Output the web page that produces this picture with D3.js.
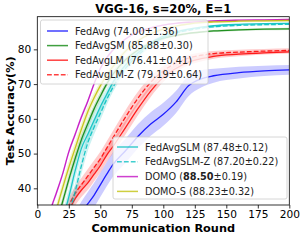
<!DOCTYPE html>
<html><head><meta charset="utf-8">
<script src="https://cdn.jsdelivr.net/npm/d3@7"></script>
<style>body{margin:0;background:#fff}svg{display:block}text{font-family:"DejaVu Sans",sans-serif}</style>
</head><body>
<script>
const rounds = [0,10,15,20,25,30,35,40,45,50,55,60,70,80,90,100,110,120,130,140,160,180,200];
const fedAvg     = [10,18,21,24,27,30,33,35.5,38,41,44,46.8,50.8,55,58.5,61.3,64.8,69.5,71.5,72.4,73.3,73.8,74.1];
const fedAvgSM   = [10,24,30,36,42.5,48.5,54,58.5,62.8,66.5,70,72.8,77,79.8,81.8,83.2,84,84.6,85,85.3,85.6,85.8,85.9];
const fedAvgLM   = [10,20,24.5,29,33.5,37,39.5,41.5,44,46.5,49.5,52,57.5,63,68,72,74.5,76.3,77.3,78,78.6,79,79.3];
const fedAvgLMZ  = [10,21,26,30.5,35,38.5,41,43.5,46,48.5,51.5,54.5,60.5,66,70.5,73.8,76,77.5,78.3,78.8,79.2,79.5,79.7];
const fedAvgSLM  = [10,20,25.5,31,37.5,45,51.5,55.5,59.5,63.5,67,70.5,75.5,79,81.8,83.8,85,85.8,86.4,86.8,87.2,87.4,87.5];
const fedAvgSLMZ = [10,18,23,28,33,39,46.5,53,57.5,61.5,65.5,69,74.5,78.3,81.2,83.3,84.7,85.5,86.1,86.5,86.9,87.1,87.2];
const domo       = [10,33,38.5,44,50.5,55.5,60.5,65,70,74.5,77.5,79.8,83,85,86.2,87,87.5,87.8,88,88.2,88.4,88.5,88.6];
const domoS      = [10,25,33.5,40,46,51.5,57,62,66,69.5,72.5,75,79.5,82.5,84.5,85.8,86.7,87.3,87.7,87.9,88.1,88.2,88.3];

const sdFedAvg     = [1,2,2.5,2.5,3,3,3.2,3.4,3.5,3.5,3.5,3.5,3.5,3.5,3.4,3.3,3.2,3,2.5,2,1.7,1.5,1.4];
const sdFedAvgSM   = [1,1.5,1.5,1.6,1.6,1.6,1.5,1.4,1.3,1.2,1,0.9,0.7,0.6,0.5,0.4,0.4,0.3,0.3,0.3,0.3,0.3,0.3];
const sdFedAvgLM   = [1,1.5,1.8,2,2,2,2,2,2,2,2,2,2,1.9,1.7,1.4,1.1,0.9,0.8,0.7,0.6,0.5,0.5];
const sdFedAvgLMZ  = [1,1.5,1.8,2,2,2,2,2,2,2,2,2,2,1.9,1.7,1.4,1.1,0.9,0.8,0.7,0.7,0.6,0.6];
const sdFedAvgSLM  = [1,1.8,2,2.2,2.4,2.4,2.4,2.3,2.1,1.9,1.6,1.3,1,0.8,0.6,0.5,0.4,0.3,0.2,0.2,0.2,0.2,0.2];
const sdFedAvgSLMZ = [1,1.8,2,2.2,2.4,2.4,2.4,2.3,2.1,1.9,1.6,1.3,1,0.8,0.6,0.5,0.4,0.3,0.3,0.3,0.2,0.2,0.2];
const sdDomo       = [1,0.8,0.8,0.8,0.8,0.8,0.8,0.7,0.6,0.5,0.5,0.4,0.3,0.3,0.2,0.2,0.2,0.2,0.2,0.2,0.2,0.2,0.2];
const sdDomoS      = [1,1.5,1.6,1.7,1.8,1.8,1.7,1.6,1.4,1.2,1,0.9,0.7,0.5,0.4,0.4,0.3,0.3,0.3,0.3,0.3,0.3,0.3];

const names  = ["FedAvg","FedAvgSM","FedAvgLM","FedAvgLM-Z","FedAvgSLM","FedAvgSLM-Z","DOMO","DOMO-S"];
const labels = ["(74.00±1.36)","(85.88±0.30)","(76.41±0.41)","(79.19±0.64)","(87.48±0.12)","(87.20±0.22)","(88.50±0.19)","(88.23±0.32)"];
const colors = ["#0000ff","#008000","#ff0000","#ff0000","#00bfbf","#00bfbf","#bf00bf","#bfbf00"];
const dashed = [false,false,false,true,false,true,false,false];
const means  = [fedAvg,fedAvgSM,fedAvgLM,fedAvgLMZ,fedAvgSLM,fedAvgSLMZ,domo,domoS];
const sds    = [sdFedAvg,sdFedAvgSM,sdFedAvgLM,sdFedAvgLMZ,sdFedAvgSLM,sdFedAvgSLMZ,sdDomo,sdDomoS];
const xTicks = [0,25,50,75,100,125,150,175,200];
const yTicks = [40,50,60,70,80];

const W=305,H=240;
const m={l:37.3,r:289.3,t:16.7,b:205};
const svg=d3.select("body").append("svg").attr("width",W).attr("height",H);
const x=d3.scaleLinear().domain([0,200]).range([m.l,m.r]);
const y=d3.scaleLinear().domain([35.2,89.4]).range([m.b,m.t]);

svg.append("defs").append("clipPath").attr("id","clip").append("rect")
  .attr("x",m.l).attr("y",m.t).attr("width",m.r-m.l).attr("height",m.b-m.t);

const plot=svg.append("g").attr("clip-path","url(#clip)");
const line=d3.line().x((d,i)=>x(rounds[i])).y(d=>y(d)).curve(d3.curveMonotoneX);
const area=d3.area().x((d,i)=>x(rounds[i])).y0(d=>y(d[0])).y1(d=>y(d[1])).curve(d3.curveMonotoneX);

names.forEach((n,k)=>{
  const band=means[k].map((v,i)=>[v-sds[k][i],v+sds[k][i]]);
  plot.append("path").attr("d",area(band)).attr("fill",colors[k]).attr("fill-opacity",0.2);
  plot.append("path").attr("d",line(means[k])).attr("fill","none").attr("stroke",colors[k])
    .attr("stroke-width",1.3).attr("stroke-opacity",0.85)
    .attr("stroke-dasharray",dashed[k]?"4.8,2.1":null);
});

// axes
const xa=svg.append("g").attr("transform",`translate(0,${m.b})`)
  .call(d3.axisBottom(x).tickValues(xTicks).tickSize(3.5).tickPadding(2));
const ya=svg.append("g").attr("transform",`translate(${m.l},0)`)
  .call(d3.axisLeft(y).tickValues(yTicks).tickSize(3.5).tickPadding(2.5));
[xa,ya].forEach(a=>{a.select(".domain").remove();
  a.selectAll("text").attr("font-size","10.6px").attr("fill","#000").attr("font-family","DejaVu Sans");
  a.selectAll("line").attr("stroke","#000").attr("stroke-width",0.8);});
svg.append("rect").attr("x",m.l).attr("y",m.t).attr("width",m.r-m.l).attr("height",m.b-m.t)
  .attr("fill","none").attr("stroke","#000").attr("stroke-width",0.8);

svg.append("text").attr("x",(m.l+m.r)/2).attr("y",13).attr("text-anchor","middle")
  .attr("font-weight","bold").attr("font-size","11.6px").text("VGG-16, s=20%, E=1");
svg.append("text").attr("x",(m.l+m.r)/2).attr("y",232).attr("text-anchor","middle")
  .attr("font-weight","bold").attr("font-size","11.3px").text("Communication Round");
svg.append("text").attr("transform",`translate(14,${(m.t+m.b)/2}) rotate(-90)`).attr("text-anchor","middle")
  .attr("font-weight","bold").attr("font-size","11.3px").text("Test Accuracy(%)");

// legends
function legend(idx,bx,by,bw,bh,y0,dy,lx){
  const g=svg.append("g");
  g.append("rect").attr("x",bx).attr("y",by).attr("width",bw).attr("height",bh).attr("rx",2)
    .attr("fill","#fff").attr("fill-opacity",0.8).attr("stroke","#cccccc").attr("stroke-width",0.8);
  idx.forEach((k,j)=>{
    const yy=y0+j*dy;
    g.append("line").attr("x1",lx).attr("x2",lx+21).attr("y1",yy).attr("y2",yy)
      .attr("stroke",colors[k]).attr("stroke-width",1.5).attr("stroke-opacity",0.75)
      .attr("stroke-dasharray",dashed[k]?"4.8,2.1":null);
    const t=g.append("text").attr("x",lx+28).attr("y",yy+3.5).attr("font-size","9.7px").attr("fill","#222");
    if(names[k]==="DOMO"){
      t.append("tspan").text(names[k]+" (");
      t.append("tspan").attr("font-weight","bold").text("88.50");
      t.append("tspan").text("±0.19)");
    } else t.text(names[k]+" "+labels[k]);
  });
}
legend([0,1,2,3],40.5,20,167.5,64,31,14.6,47);
legend([4,5,6,7],113,137,174,62,147,14.8,117);
</script>
</body></html>
